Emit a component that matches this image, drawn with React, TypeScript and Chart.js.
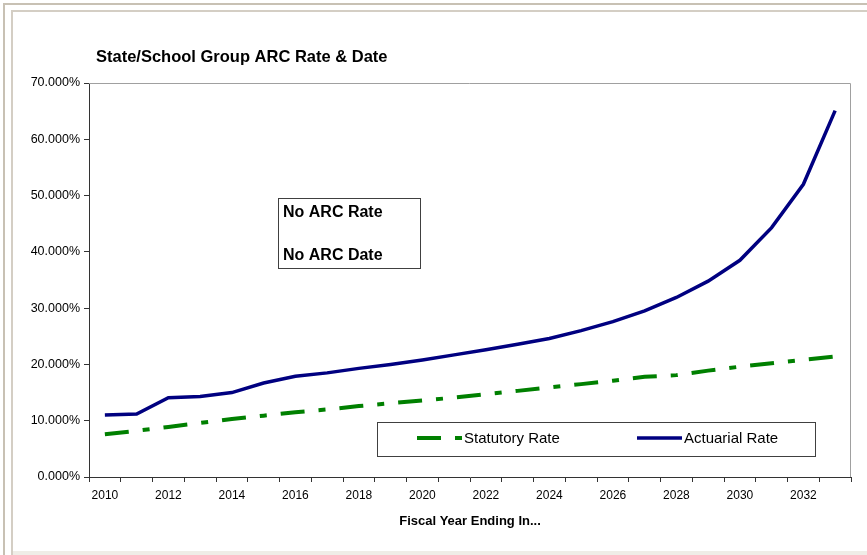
import React, { useEffect, useRef } from "react";
import { Chart, registerables } from "chart.js";

Chart.register(...registerables);

const years = [
  "2010", "2011", "2012", "2013", "2014", "2015", "2016", "2017",
  "2018", "2019", "2020", "2021", "2022", "2023", "2024", "2025",
  "2026", "2027", "2028", "2029", "2030", "2031", "2032", "2033",
];
const statutoryRate = [
  7.6, 8.2, 8.9, 9.6, 10.3, 10.9, 11.5, 12.0, 12.6, 13.1, 13.6, 14.1,
  14.7, 15.3, 15.9, 16.5, 17.1, 17.8, 18.1, 18.9, 19.6, 20.2, 20.8, 21.4,
];
const actuarialRate = [
  11.0, 11.2, 14.1, 14.3, 15.0, 16.7, 17.9, 18.5, 19.3, 20.0, 20.8, 21.7,
  22.6, 23.6, 24.6, 26.0, 27.6, 29.5, 31.9, 34.8, 38.5, 44.3, 52.0, 65.1,
];
const seriesNames = ["Statutory Rate", "Actuarial Rate"];
const chartTitle = "State/School Group ARC Rate & Date";
const noteLines = ["No ARC Rate", "No ARC Date"];
const xTitle = "Fiscal Year Ending In...";

const FONT = '"Liberation Sans", Arial, sans-serif';
const GREEN = "#008000";
const NAVY = "#000080";
const DASH = [24, 14, 7, 14];

const decorPlugin = {
  id: "decor",
  beforeDatasetsDraw(chart: any) {
    const { ctx, chartArea: a } = chart;
    ctx.save();
    ctx.strokeStyle = "#a0a0a0";
    ctx.lineWidth = 1;
    ctx.beginPath();
    ctx.moveTo(a.left, a.top + 0.5);
    ctx.lineTo(a.right - 0.5, a.top + 0.5);
    ctx.lineTo(a.right - 0.5, a.bottom);
    ctx.stroke();
    ctx.restore();
  },
  afterDraw(chart: any) {
    const { ctx } = chart;
    ctx.save();
    // title
    ctx.fillStyle = "#000";
    ctx.font = `bold 16.5px ${FONT}`;
    ctx.textBaseline = "middle";
    ctx.textAlign = "left";
    ctx.fillText(chartTitle, 96, 57);

    // note box
    ctx.fillStyle = "#fff";
    ctx.fillRect(278, 198, 142, 70);
    ctx.strokeStyle = "#404040";
    ctx.lineWidth = 1;
    ctx.strokeRect(278.5, 198.5, 142, 70);
    ctx.fillStyle = "#000";
    ctx.font = `bold 16px ${FONT}`;
    ctx.fillText(noteLines[0], 283, 213);
    ctx.fillText(noteLines[1], 283, 256);

    // legend box
    ctx.fillStyle = "#fff";
    ctx.fillRect(377, 422, 438, 34);
    ctx.strokeStyle = "#404040";
    ctx.strokeRect(377.5, 422.5, 438, 34);
    const ly = 438;
    ctx.lineWidth = 4;
    ctx.strokeStyle = GREEN;
    ctx.setLineDash(DASH);
    ctx.beginPath();
    ctx.moveTo(417, ly);
    ctx.lineTo(462, ly);
    ctx.stroke();
    ctx.setLineDash([]);
    ctx.strokeStyle = NAVY;
    ctx.lineWidth = 3.5;
    ctx.beginPath();
    ctx.moveTo(637, ly);
    ctx.lineTo(682, ly);
    ctx.stroke();
    ctx.fillStyle = "#000";
    ctx.font = `15px ${FONT}`;
    ctx.fillText(seriesNames[0], 464, ly + 1);
    ctx.fillText(seriesNames[1], 684, ly + 1);
    ctx.restore();
  },
};

export default function App() {
  const ref = useRef<HTMLCanvasElement | null>(null);

  useEffect(() => {
    if (!ref.current) return;
    const chart = new Chart(ref.current, {
      type: "line",
      data: {
        labels: years,
        datasets: [
          {
            label: seriesNames[0],
            data: statutoryRate,
            borderColor: GREEN,
            backgroundColor: GREEN,
            borderWidth: 4,
            borderDash: DASH,
            pointRadius: 0,
            tension: 0,
          },
          {
            label: seriesNames[1],
            data: actuarialRate,
            borderColor: NAVY,
            backgroundColor: NAVY,
            borderWidth: 3.5,
            pointRadius: 0,
            tension: 0,
          },
        ],
      },
      options: {
        responsive: false,
        animation: false,
        layout: { padding: { top: 83, right: 16, left: 0, bottom: 0 } },
        plugins: {
          legend: { display: false },
          title: { display: false },
          tooltip: { enabled: false },
        },
        scales: {
          x: {
            type: "category",
            offset: true,
            grid: {
              offset: true,
              drawOnChartArea: false,
              drawTicks: true,
              tickLength: 5,
              color: "#333",
            },
            border: { color: "#333", width: 1 },
            ticks: {
              autoSkip: false,
              maxRotation: 0,
              minRotation: 0,
              padding: 6,
              color: "#000",
              font: { family: FONT, size: 12 },
              callback: (_v: any, i: number) => (i % 2 === 0 ? years[i] : ""),
            },
            title: {
              display: true,
              text: xTitle,
              color: "#000",
              font: { family: FONT, size: 13, weight: "bold" },
              padding: { top: 0, bottom: 26 },
            },
            afterFit: (s: any) => {
              s.height = 78;
            },
          },
          y: {
            min: 0,
            max: 70,
            grid: {
              drawOnChartArea: false,
              drawTicks: true,
              tickLength: 5,
              color: "#333",
            },
            border: { color: "#333", width: 1 },
            ticks: {
              stepSize: 10,
              padding: 4,
              color: "#000",
              font: { family: FONT, size: 12.5 },
              callback: (v: any) => Number(v).toFixed(3) + "%",
            },
            afterFit: (s: any) => {
              s.width = 89;
            },
          },
        },
      },
      plugins: [decorPlugin],
    });
    return () => chart.destroy();
  }, []);

  return (
    <div
      style={{
        position: "fixed",
        left: 0,
        top: 0,
        width: 867,
        height: 555,
        background: "#fff",
        overflow: "hidden",
      }}
    >
      <div
        style={{
          position: "absolute",
          left: 3,
          top: 3,
          width: 870,
          height: 560,
          borderLeft: "2px solid #c8c1b4",
          borderTop: "2px solid #c8c1b4",
        }}
      />
      <div
        style={{
          position: "absolute",
          left: 11,
          top: 10,
          width: 860,
          height: 560,
          borderLeft: "2px solid #d4cec4",
          borderTop: "2px solid #d4cec4",
        }}
      />
      <div
        style={{
          position: "absolute",
          left: 13,
          top: 551,
          width: 860,
          height: 4,
          background: "#efede7",
        }}
      />
      <canvas
        ref={ref}
        width={867}
        height={555}
        style={{ position: "absolute", left: 0, top: 0, width: 867, height: 555 }}
      />
    </div>
  );
}
